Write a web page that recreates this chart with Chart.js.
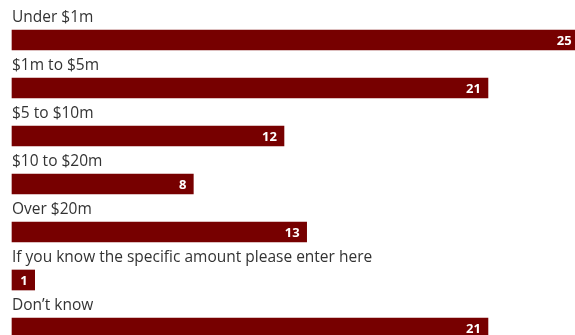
<!DOCTYPE html>
<html>
<head>
<meta charset="utf-8">
<script src="https://cdn.jsdelivr.net/npm/chart.js@4"></script>
<style>
  html, body { margin: 0; padding: 0; background: #fff; }
  #wrap { width: 575px; height: 335px; }
</style>
</head>
<body>
<div id="wrap"><canvas id="chart"></canvas></div>
<script>
const categories = [
  "Under $1m",
  "$1m to $5m",
  "$5 to $10m",
  "$10 to $20m",
  "Over $20m",
  "If you know the specific amount please enter here",
  "Don\u2019t know"
];
const counts = [25, 21, 12, 8, 13, 1, 21];

const BAR = "#770000";
const FONT = "'Open Sans', sans-serif";

// labels above bars, counts inside the bar end
const barText = {
  id: "barText",
  afterDatasetsDraw(chart) {
    const ctx = chart.ctx;
    const meta = chart.getDatasetMeta(0);
    ctx.save();
    meta.data.forEach((bar, i) => {
      const top = bar.y - bar.height / 2;
      ctx.fillStyle = "#333";
      ctx.font = "15.5px " + FONT;
      ctx.textAlign = "left";
      ctx.textBaseline = "alphabetic";
      ctx.fillText(categories[i], bar.base, top - 8);

      ctx.fillStyle = "#fff";
      ctx.font = "bold 13px " + FONT;
      ctx.textAlign = "right";
      ctx.textBaseline = "middle";
      ctx.fillText(String(counts[i]), bar.x - 7, bar.y + 1);
    });
    ctx.restore();
  }
};

new Chart(document.getElementById("chart"), {
  type: "bar",
  data: {
    labels: categories,
    datasets: [{
      data: counts,
      backgroundColor: BAR,
      borderWidth: 0,
      barThickness: 20,
      clip: false
    }]
  },
  options: {
    indexAxis: "y",
    responsive: true,
    maintainAspectRatio: false,
    animation: false,
    layout: { padding: { top: 40, bottom: 7, left: 12, right: 0 } },
    plugins: {
      legend: { display: false },
      tooltip: { enabled: false }
    },
    scales: {
      x: { display: false, min: 0, max: 24.84 },
      y: { display: false, offset: false }
    }
  },
  plugins: [barText]
});
</script>
</body>
</html>
